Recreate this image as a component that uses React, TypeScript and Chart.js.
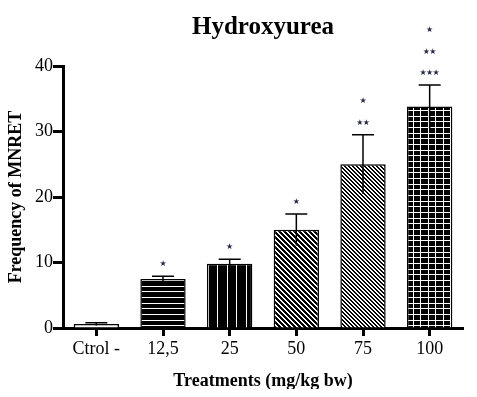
import React, { useEffect, useRef } from 'react';
import { Chart, registerables } from 'chart.js';

Chart.register(...registerables);

const categories = ['Ctrol -', '12,5', '25', '50', '75', '100'];
const means = [0.6, 7.5, 9.8, 15.0, 25.0, 33.8];
const errors = [0.2, 0.4, 0.7, 2.4, 4.5, 3.3];
const significance: string[][] = [[], ['*'], ['*'], ['*'], ['**', '*'], ['***', '**', '*']];
const yMin = 0;
const yMax = 40;
const yStep = 10;

const SERIF = '"Liberation Serif", "Times New Roman", serif';

function makeTile(w: number, h: number, white: (x: number, y: number) => boolean): CanvasPattern | string {
  const c = document.createElement('canvas');
  c.width = w;
  c.height = h;
  const g = c.getContext('2d');
  if (!g) return '#000';
  const img = g.createImageData(w, h);
  for (let y = 0; y < h; y++) {
    for (let x = 0; x < w; x++) {
      const i = (y * w + x) * 4;
      const v = white(x, y) ? 255 : 0;
      img.data[i] = v;
      img.data[i + 1] = v;
      img.data[i + 2] = v;
      img.data[i + 3] = 255;
    }
  }
  g.putImageData(img, 0, 0);
  const p = g.createPattern(c, 'repeat');
  return p || '#000';
}

function buildFills(): (CanvasPattern | string)[] {
  const horiz = makeTile(4, 17, (x, y) => y === 0 || y === 6 || y === 11);
  const vert = makeTile(19, 4, (x) => x === 0 || x === 10);
  const diag5 = makeTile(5, 5, (x, y) => ((x - y + 10) % 5) < 2);
  const diag4 = makeTile(4, 4, (x, y) => ((x - y + 8) % 4) < 2);
  const grid = makeTile(15, 17, (x, y) => x === 0 || x === 7 || y === 0 || y === 6 || y === 11);
  return ['#ffffff', horiz, vert, diag5, diag4, grid];
}

const errorBarPlugin = {
  id: 'errorBars',
  afterDatasetsDraw(chart: any) {
    const ctx = chart.ctx;
    const meta = chart.getDatasetMeta(0);
    const yScale = chart.scales.y;
    ctx.save();
    meta.data.forEach((bar: any, i: number) => {
      const x = bar.x;
      const top = yScale.getPixelForValue(means[i] + errors[i]);
      const bottom = yScale.getPixelForValue(Math.max(0, means[i] - errors[i]));
      ctx.strokeStyle = '#000';
      ctx.lineWidth = 1.5;
      ctx.beginPath();
      ctx.moveTo(x, bottom);
      ctx.lineTo(x, top);
      ctx.moveTo(x - 11, top);
      ctx.lineTo(x + 11, top);
      ctx.stroke();
      ctx.fillStyle = '#262a44';
      ctx.font = '8px "DejaVu Sans"';
      ctx.textAlign = 'center';
      ctx.textBaseline = 'middle';
      significance[i].forEach((label, r) => {
        const yRow = top - 12 - r * 21.5;
        const n = label.length;
        for (let k = 0; k < n; k++) {
          const xk = x + (k - (n - 1) / 2) * 6.5;
          ctx.fillText('\u2605', xk, yRow);
        }
      });
    });
    ctx.restore();
  },
};

export default function App() {
  const ref = useRef<HTMLCanvasElement | null>(null);
  useEffect(() => {
    if (!ref.current) return;
    const fills = buildFills();
    const chart = new Chart(ref.current, {
      type: 'bar',
      data: {
        labels: categories,
        datasets: [
          {
            data: means,
            backgroundColor: fills as any,
            borderColor: '#000',
            borderWidth: 1.5,
            categoryPercentage: 1,
            barPercentage: 0.68,
          },
        ],
      },
      options: {
        responsive: false,
        animation: false,
        layout: { padding: { left: 0, right: 6, top: 0, bottom: 0 } },
        plugins: {
          legend: { display: false },
          tooltip: { enabled: false },
          title: {
            display: true,
            text: 'Hydroxyurea',
            fullSize: false,
            color: '#000',
            font: { family: SERIF, size: 25, weight: 'bold', lineHeight: 1.2 },
            padding: { top: 5, bottom: 23 },
          },
        },
        scales: {
          x: {
            afterFit: (s: any) => {
              s.height = 61;
            },
            grid: {
              offset: false,
              drawOnChartArea: false,
              drawTicks: true,
              tickLength: 8,
              tickWidth: 3,
              tickColor: '#000',
            },
            border: { display: true, color: '#000', width: 3 },
            ticks: { color: '#000', font: { family: SERIF, size: 18 }, padding: 2, maxRotation: 0 },
            title: {
              display: true,
              text: 'Treatments (mg/kg bw)',
              color: '#000',
              font: { family: SERIF, size: 18, weight: 'bold', lineHeight: 1 },
              padding: { top: 0, bottom: -1 },
            },
          },
          y: {
            min: yMin,
            max: yMax,
            afterFit: (s: any) => {
              s.width = 55;
            },
            grid: {
              drawOnChartArea: false,
              drawTicks: true,
              tickLength: 10,
              tickWidth: 3,
              tickColor: '#000',
            },
            border: { display: true, color: '#000', width: 3 },
            ticks: { stepSize: yStep, color: '#000', font: { family: SERIF, size: 18 }, padding: 0 },
            title: {
              display: true,
              text: 'Frequency of MNRET',
              color: '#000',
              font: { family: SERIF, size: 18, weight: 'bold', lineHeight: 1 },
              padding: { top: -1, bottom: 0 },
            },
          },
        },
      },
      plugins: [errorBarPlugin],
    });
    return () => chart.destroy();
  }, []);
  return <canvas ref={ref} width={461} height={381} style={{ display: 'block' }} />;
}
